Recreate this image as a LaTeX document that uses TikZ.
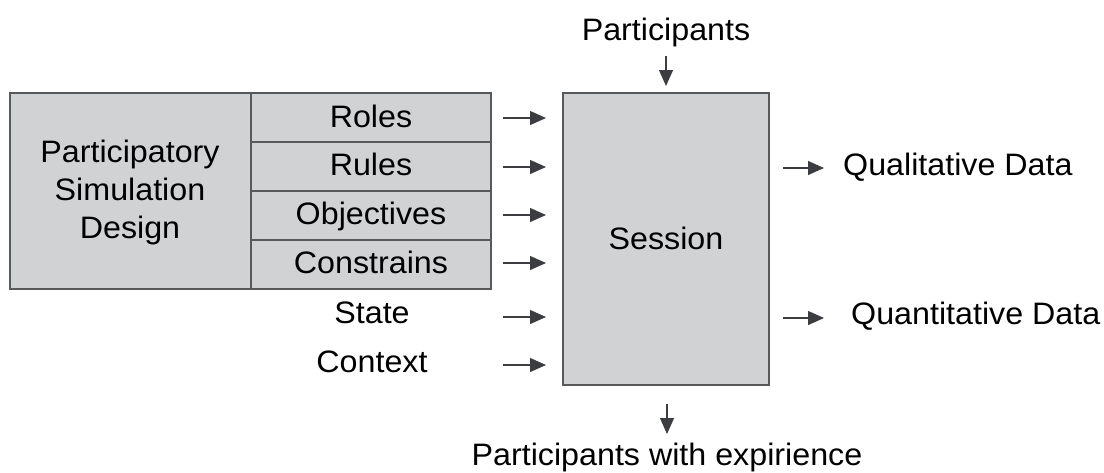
\documentclass[tikz,border=0pt]{standalone}
\usepackage{fontspec}
\setmainfont[FakeStretch=1.04]{Liberation Sans}
\usetikzlibrary{arrows.meta}
\definecolor{boxfill}{HTML}{D1D2D4}
\definecolor{boxline}{HTML}{58595B}
\definecolor{arr}{HTML}{3C3D40}
\begin{document}
\begin{tikzpicture}[x=1pt,y=-1pt,
  txt/.style={inner sep=0pt,font=\fontsize{31}{38}\selectfont,text=black},
  cell/.style={draw=boxline,line width=1.2pt,fill=boxfill},
  flow/.style={draw=arr,line width=1.3pt,-{Triangle[length=16pt,width=14pt]}}]
\useasboundingbox (0,0) rectangle (1104,472);
% boxes
\path[cell] (10,93) rectangle (251,289);
\path[cell] (251,93) rectangle (491,142);
\path[cell] (251,142) rectangle (491,191);
\path[cell] (251,191) rectangle (491,240);
\path[cell] (251,240) rectangle (491,289);
\path[cell] (563,93) rectangle (769,385);
% texts
\node[txt,align=center] (design) at (130,192) {Participatory\\Simulation\\Design};
\node[txt,anchor=base] (roles) at (371,127) {Roles};
\node[txt,anchor=base] (rules) at (371,175) {Rules};
\node[txt,anchor=base] (obj) at (371,224) {Objectives};
\node[txt,anchor=base] (cons) at (371,273) {Constrains};
\node[txt,anchor=base] (state) at (372,323) {State};
\node[txt,anchor=base] (context) at (372,372) {Context};
\node[txt,anchor=base] (session) at (666,249) {Session};
\node[txt,anchor=base] (part) at (666,40) {Participants};
\node[txt,anchor=base] (pwe) at (667,465) {Participants with expirience};
\node[txt,anchor=base west] (qual) at (843,175) {Qualitative Data};
\node[txt,anchor=base west] (quant) at (851,324) {Quantitative Data};
% arrow coordinates
\foreach \i/\y in {1/118,2/167,3/215,4/263,5/317,6/365}{
  \coordinate (s\i) at (503,\y);
  \coordinate (e\i) at (546,\y);
  \draw[flow] (s\i) -- (e\i);
}
\coordinate (ts) at (666,56);
\coordinate (te) at (666,86);
\draw[flow] (ts) -- (te);
\coordinate (bs) at (667,404);
\coordinate (be) at (667,434);
\draw[flow] (bs) -- (be);
\coordinate (q1s) at (783,168);
\coordinate (q1e) at (824,168);
\draw[flow] (q1s) -- (q1e);
\coordinate (q2s) at (783,318);
\coordinate (q2e) at (824,318);
\draw[flow] (q2s) -- (q2e);
\end{tikzpicture}
\end{document}
